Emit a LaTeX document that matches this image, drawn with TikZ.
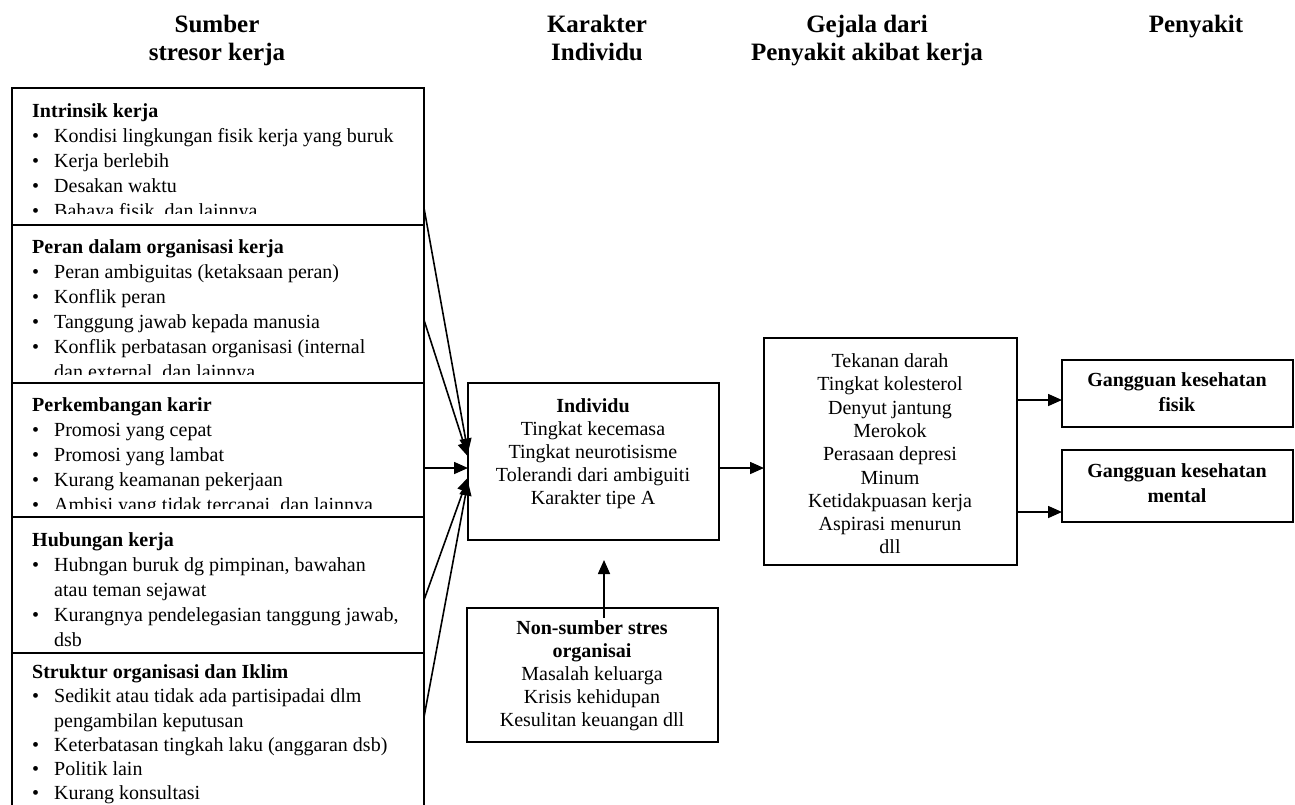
\documentclass[tikz,border=0pt]{standalone}
\usepackage{fontspec}
\setmainfont{Liberation Serif}
\usetikzlibrary{arrows.meta}
\newcommand{\bl}{\makebox[22pt][l]{\textbullet}}
\newcommand{\cl}{\hspace*{22pt}}
\begin{document}
\begin{tikzpicture}[x=1pt,y=-1pt,
  frame/.style={draw=black, line width=1.8pt, outer sep=0pt, inner sep=0pt, anchor=north west},
  arr/.style={-{Triangle[length=14pt,width=12pt]}, line width=1.6pt},
  head/.style={font=\bfseries\fontsize{25}{28}\selectfont, align=center, anchor=north, inner sep=0pt},
  list/.style={font=\fontsize{20}{25}\selectfont, align=left, anchor=north west, inner sep=0pt},
  mid/.style={font=\fontsize{20}{23}\selectfont, align=center, anchor=north, inner sep=0pt},
  dis/.style={font=\bfseries\fontsize{20}{25}\selectfont, align=center, anchor=north, inner sep=0pt},
  sym/.style={font=\fontsize{20}{23.3}\selectfont, align=center, anchor=north, inner sep=0pt}]
\useasboundingbox (0,0) rectangle (1295,804);
\fill[white] (0,0) rectangle (1295,804);

% column headings
\node[head] (h1) at (217,13) {\strut Sumber\\stresor kerja};
\node[head] (h2) at (597,13) {\strut Karakter\\Individu};
\node[head] (h3) at (867,13) {\strut Gejala dari\\Penyakit akibat kerja};
\node[head] (h4) at (1196,13) {\strut Penyakit};

% sources of work stress
\node[frame, minimum width=412, minimum height=137] (b1) at (12,88) {};
\node[frame, minimum width=412, minimum height=158] (b2) at (12,225) {};
\node[frame, minimum width=412, minimum height=134] (b3) at (12,383) {};
\node[frame, minimum width=412, minimum height=136] (b4) at (12,517) {};
\node[frame, minimum width=412, minimum height=180] (b5) at (12,653) {};

\begin{scope}
\clip (12,88) rectangle (424,213);
\node[list] (t1) at (32,99.5) {\strut\textbf{Intrinsik kerja}\\
\bl Kondisi lingkungan fisik kerja yang buruk\\
\bl Kerja berlebih\\
\bl Desakan waktu\\
\bl Bahaya fisik, dan lainnya};
\end{scope}
\begin{scope}
\clip (12,225) rectangle (424,374);
\node[list] (t2) at (32,235.5) {\strut\textbf{Peran dalam organisasi kerja}\\
\bl Peran ambiguitas (ketaksaan peran)\\
\bl Konflik peran\\
\bl Tanggung jawab kepada manusia\\
\bl Konflik perbatasan organisasi (internal\\
\cl dan external, dan lainnya};
\end{scope}
\begin{scope}
\clip (12,383) rectangle (424,508);
\node[list] (t3) at (32,393.5) {\strut\textbf{Perkembangan karir}\\
\bl Promosi yang cepat\\
\bl Promosi yang lambat\\
\bl Kurang keamanan pekerjaan\\
\bl Ambisi yang tidak tercapai, dan lainnya};
\end{scope}
\node[list] (t4) at (32,528.5) {\strut\textbf{Hubungan kerja}\\
\bl Hubngan buruk dg pimpinan, bawahan\\
\cl atau teman sejawat\\
\bl Kurangnya pendelegasian tanggung jawab,\\
\cl dsb};
\node[list, font=\fontsize{20}{24.2}\selectfont] (t5) at (32,661.5) {\strut\textbf{Struktur organisasi dan Iklim}\\
\bl Sedikit atau tidak ada partisipadai dlm\\
\cl pengambilan keputusan\\
\bl Keterbatasan tingkah laku (anggaran dsb)\\
\bl Politik lain\\
\bl Kurang konsultasi};

% individual characteristics
\node[frame, minimum width=251, minimum height=157] (ind) at (468,383) {};
\node[mid] (tind) at (593,396) {\strut\textbf{Individu}\\Tingkat kecemasa\\Tingkat neurotisisme\\Tolerandi dari ambiguiti\\Karakter tipe A};

% non-organisational stress
\node[frame, minimum width=251, minimum height=134] (non) at (467,608) {};
\node[mid] (tnon) at (592,618) {\strut\textbf{Non-sumber stres}\\\textbf{organisai}\\Masalah keluarga\\Krisis kehidupan\\Kesulitan keuangan dll};

% symptoms
\node[frame, minimum width=253, minimum height=227] (sym) at (764,338) {};
\node[sym] (tsym) at (890,351) {\strut Tekanan darah\\Tingkat kolesterol\\Denyut jantung\\Merokok\\Perasaan depresi\\Minum\\Ketidakpuasan kerja\\Aspirasi menurun\\dll};

% diseases
\node[frame, minimum width=231, minimum height=67] (fis) at (1062,360) {};
\node[dis] (tfis) at (1177,368.5) {\strut Gangguan kesehatan\\fisik};
\node[frame, minimum width=231, minimum height=72] (men) at (1062,450) {};
\node[dis] (tmen) at (1177,459.5) {\strut Gangguan kesehatan\\mental};

% connectors
\coordinate (s1) at (424,208);
\coordinate (s2) at (424,320);
\coordinate (s3) at (424,468);
\coordinate (s4) at (424,600);
\coordinate (s5) at (424,717);
\draw[line width=1.8pt] (424,88) -- (424,804);
\draw[arr] (s1) -- ([yshift=9pt]ind.west);
\draw[arr] (s2) -- ([yshift=5pt]ind.west);
\draw[arr] (s3) -- ([yshift=-6.5pt]ind.west);
\draw[arr] (s4) -- ([yshift=-16pt]ind.west);
\draw[arr] (s5) -- ([yshift=-20pt]ind.west);

\coordinate (nu) at (604,618);
\coordinate (iu) at (604,560);
\draw[arr] (nu) -- (iu);

\coordinate (ie) at (719,468);
\coordinate (se) at (764,468);
\draw[arr] (ie) -- (se);
\coordinate (sf) at (1017,400);
\coordinate (fw) at (1062,400);
\draw[arr] (sf) -- (fw);
\coordinate (sm) at (1017,512);
\coordinate (mw) at (1062,512);
\draw[arr] (sm) -- (mw);
\end{tikzpicture}
\end{document}
